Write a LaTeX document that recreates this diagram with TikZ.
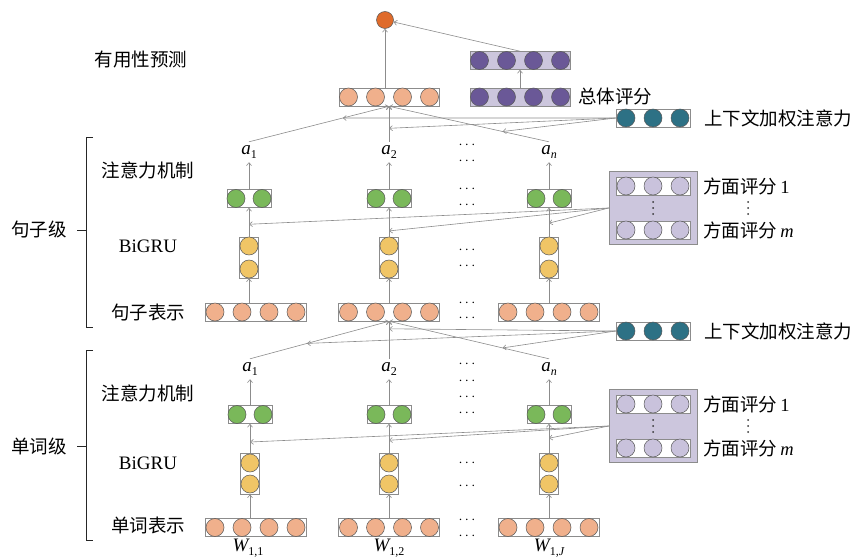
\documentclass[tikz,border=0pt]{standalone}
\usepackage{fontspec}
\setmainfont{Liberation Serif}
\newfontfamily\cjk{Noto Sans CJK SC}
\usetikzlibrary{arrows.meta,calc}

\definecolor{linegray}{HTML}{8C8C8C}
\definecolor{peach}{HTML}{F0B08C}
\definecolor{leaf}{HTML}{7AB85A}
\definecolor{sand}{HTML}{F0C566}
\definecolor{teal}{HTML}{2D7185}
\definecolor{grape}{HTML}{6A5897}
\definecolor{lav}{HTML}{CCC6DD}
\definecolor{aspcell}{HTML}{C9C2DC}
\definecolor{outorange}{HTML}{DF6B2B}

% subscript in text fonts
\newcommand{\lowidx}[1]{\raisebox{-0.45ex}{\fontsize{12}{12}\selectfont #1}}

% horizontal bar of circles: name, x, y, width, count, spacing, cell colour, bar colour
\newcommand{\cellrow}[8]{%
  \node[bar, fill=#8, minimum width=#4pt, minimum height=18pt] (#1) at (#2,#3) {};
  \foreach \k in {1,...,#5}{
    \node[cell, fill=#7] at ($(#1.center)+({(\k-(#5+1)/2)*#6},0)$) {};
  }
}
% vertical bar of two circles: name, x, y, half spacing, colour
\newcommand{\cellcol}[5]{%
  \node[bar, minimum width=19pt, minimum height=41pt] (#1) at (#2,#3) {};
  \node[cell, fill=#5] at ($(#1.center)+(0,-#4)$) {};
  \node[cell, fill=#5] at ($(#1.center)+(0,#4)$) {};
}
% three stacked dots: x, y
\newcommand{\vdotmark}[2]{%
  \foreach \d in {-6,0,6}{\fill[black!80] (#1,#2+\d) circle (1pt);}%
}
% aspect rating box: name, x, y
\newcommand{\aspectbox}[3]{%
  \node[draw=linegray, fill=lav, line width=0.6pt, minimum width=88pt, minimum height=73pt, inner sep=0pt] (#1) at (#2,#3) {};
  \cellrow{#1r1}{#2}{#3-22}{74}{3}{27}{aspcell}{white}
  \cellrow{#1r2}{#2}{#3+22}{74}{3}{27}{aspcell}{white}
  \vdotmark{#2}{#3}
  \node[lbl, anchor=west] at (703,#3-22) {方面评分\,\rmfamily 1};
  \vdotmark{748}{#3}
  \node[lbl, anchor=west] at (703,#3+22) {方面评分\,\rmfamily\itshape m};
}

\begin{document}
\begin{tikzpicture}[x=1pt,y=-1pt,
  bar/.style={rectangle, draw=linegray, line width=0.6pt, inner sep=0pt, fill=white},
  cell/.style={circle, draw=black!65, line width=0.5pt, minimum size=18pt, inner sep=0pt},
  link/.style={draw=linegray, line width=0.6pt},
  arr/.style={link, -{Straight Barb[length=3pt,width=5pt]}},
  lbl/.style={font=\cjk\fontsize{18.5}{19}\selectfont, inner sep=0pt},
  lat/.style={font=\fontsize{19}{19}\selectfont, inner sep=0pt},
  alab/.style={lat, minimum height=20pt},
  dotsx/.style={font=\fontsize{14}{14}\selectfont, inner sep=0pt},
  brace/.style={draw=black!85, line width=0.9pt}]
\useasboundingbox (0,0) rectangle (865,559);

% ---------- output part ----------
\node[cell, fill=outorange, minimum size=17pt] (out) at (385,20) {};
\cellrow{pt}{520}{60.5}{100}{4}{27}{grape}{lav}
\cellrow{pb}{520}{97}{100}{4}{27}{grape}{lav}
\node[lbl, anchor=west] (overall) at (578,97) {总体评分};
\cellrow{doc}{389}{97}{100}{4}{27}{peach}{white}
\node[lbl] (predict) at (141,60) {有用性预测};

\draw[arr] (doc.north -| out) -- (out);
\draw[arr] (pt.north) -- (out);
\draw[arr] (pb.north) -- (pt.south);

% ---------- sentence level ----------
\cellrow{ctxS}{653}{118}{74}{3}{27}{teal}{white}
\node[lbl, anchor=west] (ctxSlab) at (704,118) {上下文加权注意力};

\node[alab] (sa1) at (249,152) {{\itshape a}\lowidx{1}};
\node[alab] (sa2) at (389,152) {{\itshape a}\lowidx{2}};
\node[alab] (san) at (549,152) {{\itshape a}\lowidx{\itshape n}};

\cellrow{sg1}{249}{198.5}{44}{2}{26}{leaf}{white}
\cellrow{sg2}{389}{198.5}{44}{2}{26}{leaf}{white}
\cellrow{sg3}{549}{198.5}{44}{2}{26}{leaf}{white}

\cellcol{sy1}{249}{257.5}{11.5}{sand}
\cellcol{sy2}{389}{257.5}{11.5}{sand}
\cellcol{sy3}{549}{257.5}{11.5}{sand}

\cellrow{ss1}{255.5}{312}{101}{4}{27}{peach}{white}
\cellrow{ss2}{389}{312}{101}{4}{27}{peach}{white}
\cellrow{ss3}{548.5}{312}{101}{4}{27}{peach}{white}

\foreach \yy in {145,161,189,205,250,266,303,318}
  {\node[dotsx] at (467,\yy) {$\cdots$};}

\aspectbox{asS}{653}{208}

\node[lbl] (sattn) at (148,170) {注意力机制};
\node[lat] (sgru) at (148,246) {BiGRU};
\node[lbl] (srep) at (148,313) {句子表示};
\draw[brace] (93,137) -- (86,137) -- (86,327) -- (93,327);
\draw[brace] (77,230) -- (86,230);
\node[lbl] (slevel) at (39,230) {句子级};

% vertical flow in each column
\foreach \i/\j in {1/1,2/2,3/n}{
  \draw[arr] (ss\i.north -| sy\i) -- (sy\i.south);
  \draw[arr] (sy\i.north) -- (sg\i.south);
  \draw[arr] (sg\i.north) -- (sa\j.south);
}
% attention weights into the document vector
\draw[arr] (sa1.north) -- (doc.south);
\draw[arr] (sa2.north) -- (doc.south);
\draw[arr] (san.north) -- (doc.south);
\coordinate (t1) at ($(sa1.north)!0.67!(doc.south)$);
\coordinate (t2) at ($(sa2.north)!0.38!(doc.south)$);
\coordinate (t3) at ($(san.north)!0.29!(doc.south)$);
\draw[arr] (ctxS.west) -- (t1);
\draw[arr] (ctxS.west) -- (t2);
\draw[arr] (ctxS.west) -- (t3);
% aspect ratings into BiGRU outputs
\coordinate (k1) at ($(sy1.north)!0.43!(sg1.south)$);
\coordinate (k2) at ($(sy2.north)!0.2!(sg2.south)$);
\coordinate (k3) at ($(sy3.north)!0.47!(sg3.south)$);
\draw[arr] (asS.west) -- (k1);
\draw[arr] (asS.west) -- (k2);
\draw[arr] (asS.west) -- (k3);

% ---------- word level ----------
\cellrow{ctxW}{653}{331}{74}{3}{27}{teal}{white}
\node[lbl, anchor=west] (ctxWlab) at (704,331) {上下文加权注意力};

\node[alab] (wa1) at (250,369) {{\itshape a}\lowidx{1}};
\node[alab] (wa2) at (389,369) {{\itshape a}\lowidx{2}};
\node[alab] (wan) at (549,369) {{\itshape a}\lowidx{\itshape n}};

\cellrow{wg1}{250}{414.5}{44}{2}{26}{leaf}{white}
\cellrow{wg2}{389}{414.5}{44}{2}{26}{leaf}{white}
\cellrow{wg3}{549}{414.5}{44}{2}{26}{leaf}{white}

\cellcol{wy1}{250}{473.5}{10.5}{sand}
\cellcol{wy2}{389}{473.5}{10.5}{sand}
\cellcol{wy3}{549}{473.5}{10.5}{sand}

\cellrow{ws1}{255.5}{527.5}{101}{4}{27}{peach}{white}
\cellrow{ws2}{389}{527.5}{101}{4}{27}{peach}{white}
\cellrow{ws3}{548.5}{527.5}{101}{4}{27}{peach}{white}

\node[lat] (w1) at (248,548) {{\itshape W}\lowidx{1,1}};
\node[lat] (w2) at (389,548) {{\itshape W}\lowidx{1,2}};
\node[lat] (w3) at (549,548) {{\itshape W}\lowidx{1,\itshape J}};

\foreach \yy in {364,381,397,413,463,486,520,536}
  {\node[dotsx] at (467,\yy) {$\cdots$};}

\aspectbox{asW}{653}{426}

\node[lbl] (wattn) at (148,393) {注意力机制};
\node[lat] (wgru) at (148,463) {BiGRU};
\node[lbl] (wrep) at (148,525) {单词表示};
\draw[brace] (93,350) -- (86,350) -- (86,540) -- (93,540);
\draw[brace] (77,446) -- (86,446);
\node[lbl] (wlevel) at (39,446) {单词级};

\foreach \i/\j in {1/1,2/2,3/n}{
  \draw[arr] (ws\i.north -| wy\i) -- (wy\i.south);
  \draw[arr] (wy\i.north) -- (wg\i.south);
  \draw[arr] (wg\i.north) -- (wa\j.south);
}
\draw[arr] (wa1.north) -- (ss2.south);
\draw[arr] (wa2.north) -- (ss2.south);
\draw[arr] (wan.north) -- (ss2.south);
\coordinate (u1) at ($(wa1.north)!0.41!(ss2.south)$);
\coordinate (u2) at ($(wa2.north)!0.8!(ss2.south)$);
\coordinate (u3) at ($(wan.north)!0.29!(ss2.south)$);
\draw[arr] (ctxW.west) -- (u1);
\draw[arr] (ctxW.west) -- (u2);
\draw[arr] (ctxW.west) -- (u3);
\coordinate (m1) at ($(wy1.north)!0.37!(wg1.south)$);
\coordinate (m2) at ($(wy2.north)!0.43!(wg2.south)$);
\coordinate (m3) at ($(wy3.north)!0.5!(wg3.south)$);
\draw[arr] (asW.west) -- (m1);
\draw[arr] (asW.west) -- (m2);
\draw[arr] (asW.west) -- (m3);
\end{tikzpicture}
\end{document}
